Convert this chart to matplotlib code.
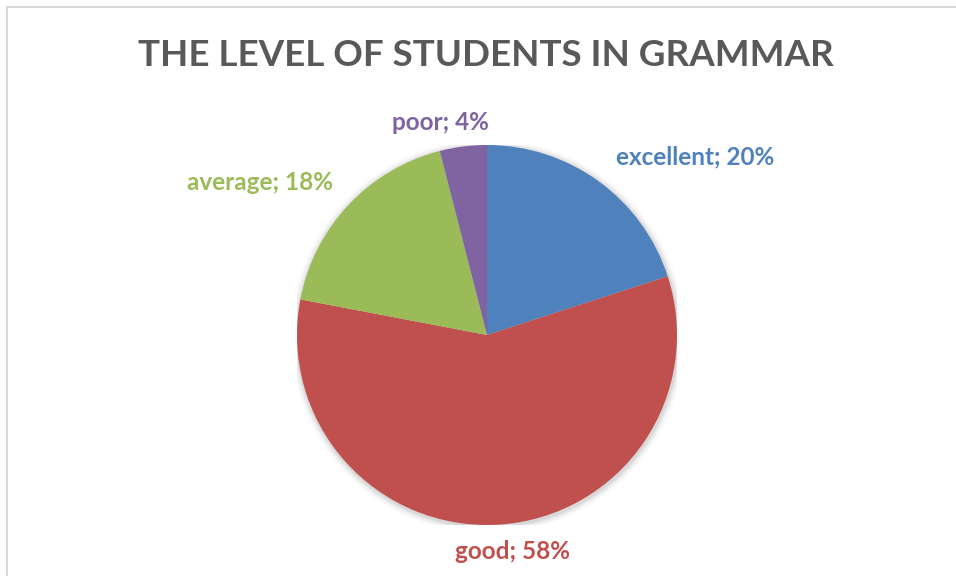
import matplotlib
matplotlib.use("Agg")
import matplotlib.pyplot as plt
from matplotlib.patches import Rectangle, Circle

categories = ["excellent", "good", "average", "poor"]
shares = [20, 58, 18, 4]
colors = ["#4F81BD", "#C0504D", "#9BBB59", "#8064A2"]

# label anchor points in pie units (radius = 1)
label_pos = {
    "excellent": (1.095, 0.935),
    "good": (0.134, -1.142),
    "average": (-1.197, 0.80),
    "poor": (-0.247, 1.116),
}

plt.rcParams["font.family"] = ["Lato", "DejaVu Sans"]

W, H = 956, 576
fig = plt.figure(figsize=(W / 100, H / 100), dpi=100)
fig.patch.set_facecolor("white")

# chart frame (top and left edges visible)
fig.add_artist(Rectangle((6.5 / W, -0.05), 1.2, (H - 7) / H + 0.05,
                         transform=fig.transFigure, fill=False,
                         edgecolor="#D9D9D9", linewidth=1.5))

fig.text(486 / W, 1 - 56 / H, "THE LEVEL OF STUDENTS IN GRAMMAR",
         ha="center", va="center", fontsize=26.5, fontweight="bold",
         color="#595959")

cx, cy, r = 487, 335, 190
ax = fig.add_axes([(cx - r) / W, 1 - (cy + r) / H, 2 * r / W, 2 * r / H])
ax.set_xlim(-1, 1)
ax.set_ylim(-1, 1)
ax.set_aspect("equal")
ax.axis("off")

# soft drop shadow behind the pie
for i, a in enumerate([0.05, 0.04, 0.03, 0.02, 0.01]):
    ax.add_patch(Circle((0.004, -0.008), 1.0 + 0.008 * (i + 1),
                        color="black", alpha=a, lw=0, zorder=0))

wedges, _ = ax.pie(shares, colors=colors, startangle=90, counterclock=False,
                   radius=1.0, wedgeprops=dict(linewidth=0, zorder=1))
ax.set_xlim(-1, 1)
ax.set_ylim(-1, 1)

for name, val, col in zip(categories, shares, colors):
    x, y = label_pos[name]
    ax.text(x, y, f"{name}; {val}%", ha="center", va="center",
            fontsize=17.5, fontweight="bold", color=col, clip_on=False)

fig.savefig("out.png", dpi=100, facecolor="white")
